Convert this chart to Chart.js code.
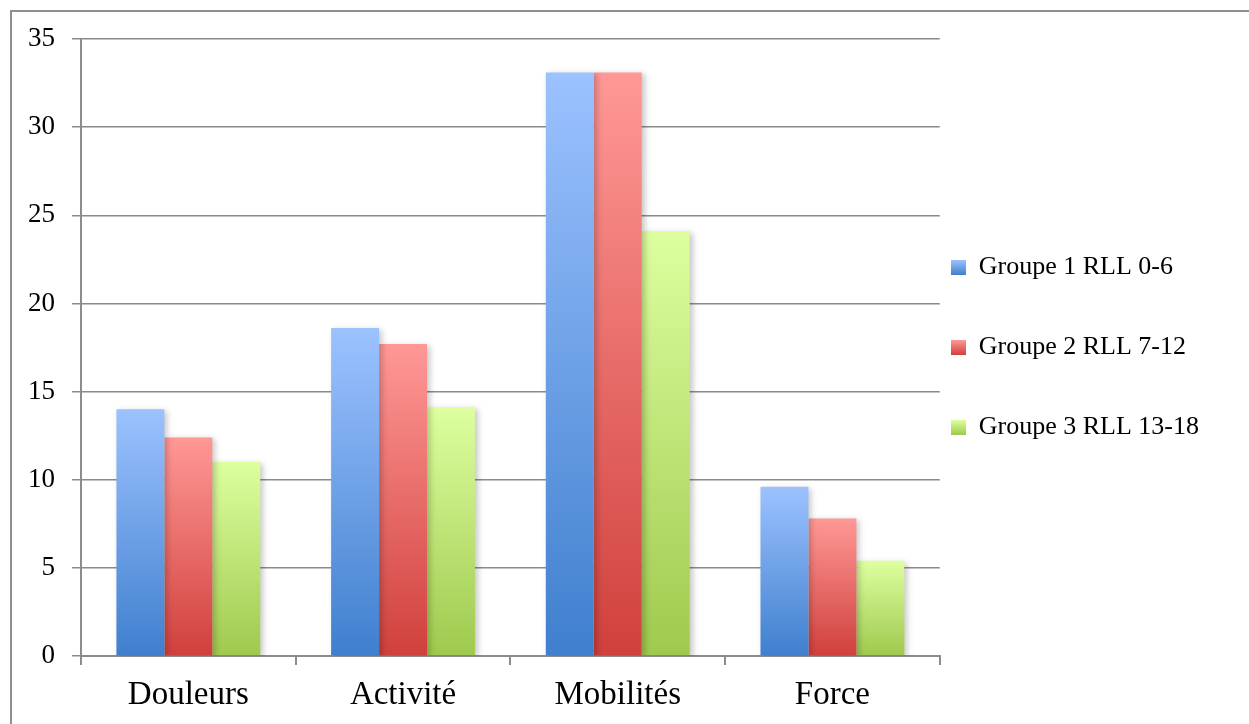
<!DOCTYPE html>
<html>
<head>
<meta charset="utf-8">
<script src="https://cdn.jsdelivr.net/npm/chart.js@4"></script>
<style>
  body { margin: 0; background: #fff; overflow: hidden; }
  #frame { position: absolute; left: 10px; top: 10px; width: 1400px; height: 900px; border: 2px solid #8f8f8f; }
  #wrap { position: absolute; left: 0; top: 0; width: 1249px; height: 724px; }
</style>
</head>
<body>
<div id="frame"></div>
<div id="wrap"><canvas id="myChart" width="1249" height="724"></canvas></div>
<script>
// data
let categories = ['Douleurs', 'Activité', 'Mobilités', 'Force'];
let groupe1 = [14.0, 18.6, 33.1, 9.6];
let groupe2 = [12.4, 17.7, 33.1, 7.8];
let groupe3 = [11.0, 14.1, 24.1, 5.4];
let seriesNames = ['Groupe 1 RLL 0-6', 'Groupe 2 RLL 7-12', 'Groupe 3 RLL 13-18'];
let yTicks = [0, 5, 10, 15, 20, 25, 30, 35];

// top / bottom colours of the gradient
let tops = ['#9cc2ff', '#ff9896', '#ddff9f'];
let bottoms = ['#3f7fce', '#d0403c', '#9fc94e'];

function barGradient(i) {
  return function (context) {
    let chart = context.chart;
    let y = chart.scales && chart.scales.y;
    if (!chart.chartArea || !y || context.raw === undefined) return tops[i];
    let top = y.getPixelForValue(context.raw);
    let bottom = y.getPixelForValue(0);
    if (!isFinite(top) || !isFinite(bottom) || top === bottom) return tops[i];
    let g = chart.ctx.createLinearGradient(0, top, 0, bottom);
    g.addColorStop(0, tops[i]);
    g.addColorStop(1, bottoms[i]);
    return g;
  };
}

// little gradient square for the legend
function legendSwatch(i) {
  let c = document.createElement('canvas');
  c.width = 15;
  c.height = 15;
  let cx = c.getContext('2d');
  let g = cx.createLinearGradient(0, 0, 0, 15);
  g.addColorStop(0, tops[i]);
  g.addColorStop(1, bottoms[i]);
  cx.fillStyle = g;
  cx.fillRect(0, 0, 15, 15);
  return c;
}

// soft shadow under the bars
let barShadow = {
  id: 'barShadow',
  beforeDatasetsDraw(chart) {
    let ctx = chart.ctx;
    ctx.save();
    ctx.shadowColor = 'rgba(0,0,0,0.22)';
    ctx.shadowBlur = 6;
    ctx.shadowOffsetX = 3;
    ctx.shadowOffsetY = 2;
  },
  afterDatasetsDraw(chart) {
    chart.ctx.restore();
  }
};

// move legend closer to the plot and center it on the plot height
let legendShift = {
  id: 'legendShift',
  afterLayout(chart) {
    let lg = chart.legend;
    if (!lg) return;
    lg.left -= 43;
    lg.right -= 43;
    lg.top -= 34;
    lg.bottom -= 34;
  }
};

let datasets = [groupe1, groupe2, groupe3].map(function (vals, i) {
  return {
    label: seriesNames[i],
    data: vals,
    backgroundColor: barGradient(i),
    borderWidth: 0,
    categoryPercentage: 0.67,
    barPercentage: 1.0
  };
});

let ctx = document.getElementById('myChart').getContext('2d');
let chart = new Chart(ctx, {
  type: 'bar',
  data: { labels: categories, datasets: datasets },
  plugins: [barShadow, legendShift],
  options: {
    responsive: false,
    animation: false,
    layout: { padding: { left: 0, top: 39, right: -3, bottom: 0 } },
    plugins: {
      tooltip: { enabled: false },
      legend: {
        position: 'right',
        labels: {
          font: { family: 'Liberation Serif', size: 26 },
          color: '#000',
          usePointStyle: true,
          boxWidth: 15,
          boxHeight: 15,
          padding: 54,
          generateLabels: function (ch) {
            return ch.data.datasets.map(function (ds, i) {
              return {
                text: ds.label,
                pointStyle: legendSwatch(i),
                fillStyle: tops[i],
                strokeStyle: 'rgba(0,0,0,0)',
                lineWidth: 0,
                datasetIndex: i,
                fontColor: '#000'
              };
            });
          }
        }
      }
    },
    scales: {
      x: {
        afterFit: function (s) { s.height = 68; },
        grid: {
          drawOnChartArea: false,
          drawTicks: true,
          tickLength: 9,
          color: '#8c8c8c',
          lineWidth: 2,
          offset: true
        },
        border: { color: '#8c8c8c', width: 2 },
        ticks: {
          font: { family: 'Liberation Serif', size: 33 },
          color: '#000',
          padding: 11
        }
      },
      y: {
        min: 0,
        max: 35,
        afterFit: function (s) { s.width = 81; },
        afterBuildTicks: function (s) { s.ticks = yTicks.map(function (v) { return { value: v }; }); },
        grid: {
          color: '#8a8a8a',
          lineWidth: 1.5,
          tickLength: 9
        },
        border: { color: '#8c8c8c', width: 2 },
        ticks: {
          font: { family: 'Liberation Serif', size: 27 },
          color: '#000',
          padding: 17
        }
      }
    }
  }
});
</script>
</body>
</html>
